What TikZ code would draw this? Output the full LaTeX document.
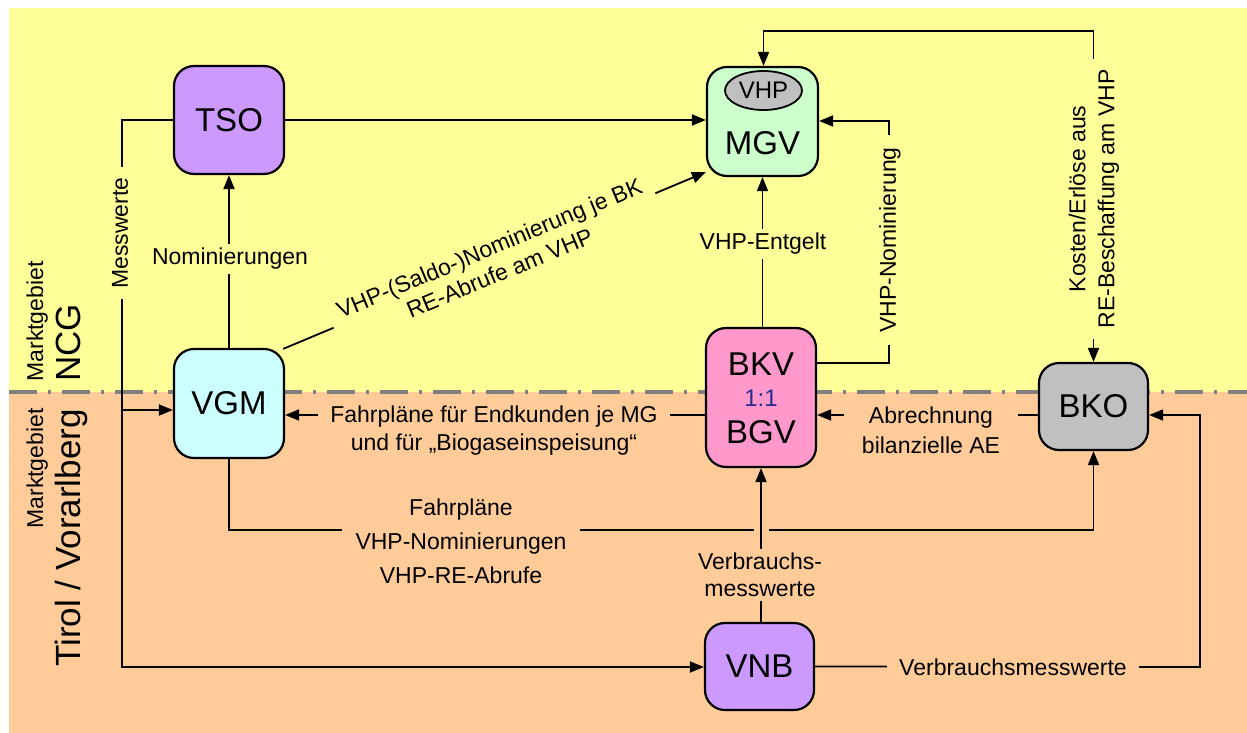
\documentclass[tikz,border=0pt]{standalone}
\usepackage{fontspec}
\setmainfont{Liberation Sans}
\usetikzlibrary{arrows.meta,shapes.geometric,calc}
\definecolor{ybg}{HTML}{FFFF99}
\definecolor{obg}{HTML}{FFCC99}
\definecolor{purp}{HTML}{CC99FF}
\definecolor{cyanc}{HTML}{CCFFFF}
\definecolor{greenc}{HTML}{CCFFCC}
\definecolor{pinkc}{HTML}{FF99CC}
\definecolor{grayc}{HTML}{C0C0C0}
\definecolor{darkgray}{HTML}{808080}
\definecolor{ratioblue}{HTML}{2B2B8C}
\begin{document}
\begin{tikzpicture}[x=0.5pt,y=-0.5pt,
  box/.style={draw=black, line width=1.1pt, rounded corners=10pt, inner sep=0pt,
    font=\fontsize{16.5}{20}\selectfont},
  boxtext/.style={inner sep=0pt, font=\fontsize{16.5}{20}\selectfont},
  conn/.style={line width=0.9pt, -{Triangle[length=7pt,width=5.5pt]}},
  lab/.style={font=\fontsize{11.5}{14}\selectfont, align=center, inner xsep=4pt, inner ysep=2pt},
  ylab/.style={lab, fill=ybg},
  olab/.style={lab, fill=obg},
  side/.style={inner sep=0pt, rotate=90}
]
\useasboundingbox (0,0) rectangle (1247,733);
% backgrounds
\fill[white] (0,0) rectangle (1247,733);
\fill[ybg] (9,8) rectangle (1247,392);
\fill[obg] (9,392) rectangle (1247,733);
\draw[darkgray, line width=2pt, dash pattern=on 14pt off 5.5pt on 1.5pt off 5.5pt] (9,392) -- (1247,392);

% side labels
\node[side, anchor=base west, font=\fontsize{11.5}{14}\selectfont] (mgncg) at (43,382) {Marktgebiet};
\node[side, anchor=base west, font=\fontsize{17.5}{20}\selectfont] (ncg) at (80,382) {NCG};
\node[side, anchor=base east, font=\fontsize{11.5}{14}\selectfont] (mgtv) at (43,408) {Marktgebiet};
\node[side, anchor=base east, font=\fontsize{17.5}{20}\selectfont] (tv) at (80,409) {Tirol / Vorarlberg};

% boxes
\node[box, fill=purp, minimum width=55pt, minimum height=54pt] (tso) at (229,120) {TSO};
\node[box, fill=cyanc, minimum width=55pt, minimum height=54.5pt] (vgm) at (229,403.5) {VGM};
\node[box, fill=greenc, minimum width=55.5pt, minimum height=54.5pt] (mgv) at (762.5,121.5) {};
\node[ellipse, draw=black, line width=0.9pt, fill=grayc, minimum width=38.5pt, minimum height=19.5pt, inner sep=0pt,
  font=\fontsize{12}{14}\selectfont] (vhp) at (763.5,90.5) {VHP};
\node[boxtext] (mgvtxt) at (762.5,143) {MGV};
\node[box, fill=pinkc, minimum width=55pt, minimum height=69.5pt] (bkv) at (761,397.5) {};
\node[boxtext] (bkvtxt) at (761,364) {BKV};
\node[inner sep=0pt, text=ratioblue, font=\fontsize{12}{14}\selectfont] (ratio) at (761,398) {1:1};
\node[boxtext] (bgvtxt) at (761,432) {BGV};
\node[box, fill=purp, minimum width=54.5pt, minimum height=43.5pt] (vnb) at (759.5,666.5) {VNB};
\node[box, fill=grayc, minimum width=54.5pt, minimum height=43.5pt] (bko) at (1093.5,406.5) {BKO};

% helper coordinates
\coordinate (m1) at (122,120);
\coordinate (m2) at (122,667);
\coordinate (m3) at (122,410);
\coordinate (n1) at (889,363);
\coordinate (n2) at (889,121);
\coordinate (k1) at (1093.5,31);
\coordinate (k2) at (763.5,31);
\coordinate (hf) at (0,415);
\coordinate (g1) at (229,530);
\coordinate (g2) at (1093.5,530);
\coordinate (v1) at (1200,667);
\coordinate (v2) at (1200,415);

% connectors
\draw[conn] (tso.east) -- (tso.east -| mgv.west);
\draw[conn] (tso.west) -- (m1) -- (m2) -- (m2 -| vnb.west);
\draw[conn] (m3) -- (m3 -| vgm.west);
\draw[conn] (vgm.north) -- (tso.south);
\draw[conn] ($(vgm.north east)+(-2,1)$) -- node[ylab, sloped, inner xsep=5pt, font=\fontsize{11.5}{13.5}\selectfont] (ldiag) {VHP-(Saldo-)Nominierung je BK\\RE-Abrufe am VHP} ($(mgv.south west)+(0,-5)$);
\draw[conn] (bkv.north -| mgvtxt) -- (mgv.south);
\draw[conn] (bkv.east |- n1) -- (n1) -- (n2) -- (n2 -| mgv.east);
\draw[line width=0.9pt, {Triangle[length=7pt,width=5.5pt]}-{Triangle[length=7pt,width=5.5pt]}] (bko.north) -- (k1) -- (k2) -- (k2 |- mgv.north);
\draw[conn] (bkv.west |- hf) -- (vgm.east |- hf);
\draw[conn] (bko.west |- hf) -- (bkv.east |- hf);
\draw[conn] (vgm.south) -- (g1) -- (g2) -- (bko.south);
\node[fill=obg, minimum width=7.5pt, minimum height=4pt, inner sep=0pt] (gapmask) at (761,530) {};
\draw[conn] (vnb.north -| bkv.south) -- (bkv.south);
\draw[conn] (vnb.east) -- (v1) -- (v2) -- (v2 -| bko.east);

% labels
\node[ylab, side, inner xsep=5pt] (lmess) at (120,233) {Messwerte};
\node[ylab] (lnom) at (230,259) {Nominierungen};
\node[ylab] (lentg) at (763,244) {VHP-Entgelt};
\node[ylab, side, inner xsep=6pt] (lvhpn) at (890,240) {VHP-Nominierung};
\node[ylab, side, inner xsep=5pt, font=\fontsize{11.5}{14.5}\selectfont] (lkost) at (1094,199) {Kosten/Erlöse aus\\RE-Beschaffung am VHP};
\node[olab, inner xsep=6pt] (lfahr) at (494,431) {Fahrpläne für Endkunden je MG\\und für „Biogaseinspeisung“};
\node[olab, inner xsep=9pt, font=\fontsize{11.5}{15}\selectfont] (labr) at (931,430) {Abrechnung\\bilanzielle AE};
\node[olab, inner xsep=7pt, font=\fontsize{11.5}{17}\selectfont] (lfplan) at (461,541) {Fahrpläne\\VHP-Nominierungen\\VHP-RE-Abrufe};
\node[olab, font=\fontsize{11.5}{13.5}\selectfont] (lverb) at (760,575) {Verbrauchs-\\messwerte};
\node[olab, inner xsep=6pt] (lverbm) at (1013,667) {Verbrauchsmesswerte};
\end{tikzpicture}
\end{document}
